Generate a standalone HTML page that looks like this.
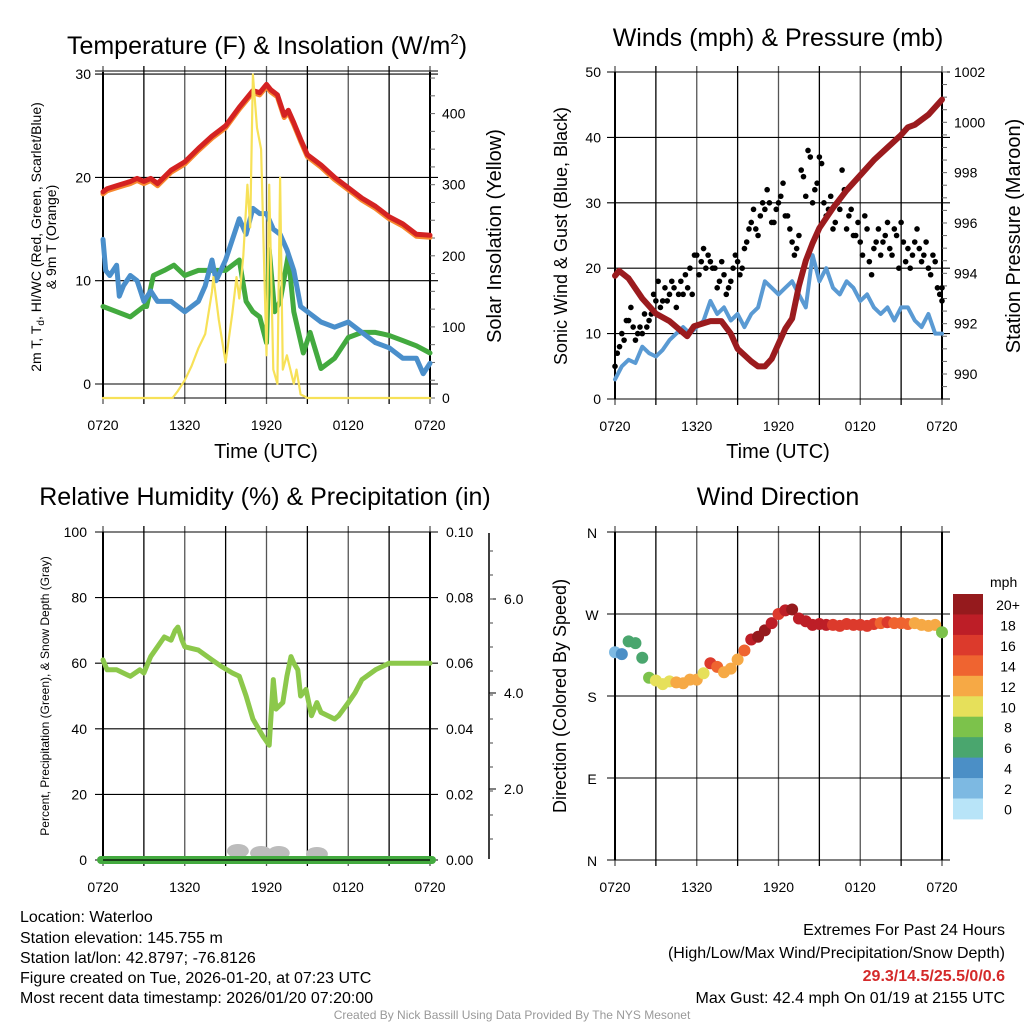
<!DOCTYPE html>
<html><head><meta charset="utf-8">
<style>
html,body{margin:0;padding:0;background:#fff;}
svg{display:block;font-family:"Liberation Sans",Arial,sans-serif;}
</style></head>
<body>
<svg id="c" width="1024" height="1024" viewBox="0 0 1024 1024" xmlns="http://www.w3.org/2000/svg">
<rect width="1024" height="1024" fill="#fff"/>
<g id="g1"></g>
<g id="g2"></g>
<g id="g3"></g>
<g id="g4"></g>

<text x="267" y="54" font-size="25" text-anchor="middle">Temperature (F) &amp; Insolation (W/m<tspan font-size="15" dy="-10">2</tspan><tspan dy="10">)</tspan></text>
<text x="778" y="46" font-size="25" text-anchor="middle">Winds (mph) &amp; Pressure (mb)</text>
<text x="265" y="505" font-size="25" text-anchor="middle">Relative Humidity (%) &amp; Precipitation (in)</text>
<text x="778" y="505" font-size="25" text-anchor="middle">Wind Direction</text>

<text x="266" y="458" font-size="20" text-anchor="middle">Time (UTC)</text>
<text x="778" y="458" font-size="20" text-anchor="middle">Time (UTC)</text>

<text transform="translate(41,237) rotate(-90)" font-size="14" text-anchor="middle">2m T, T<tspan font-size="10" dy="3">d</tspan><tspan dy="-3">, HI/WC (Red, Green, Scarlet/Blue)</tspan></text>
<text transform="translate(56,237) rotate(-90)" font-size="14" text-anchor="middle">&amp; 9m T (Orange)</text>
<text transform="translate(501,236) rotate(-90)" font-size="20" text-anchor="middle">Solar Insolation (Yellow)</text>
<text transform="translate(567,236) rotate(-90)" font-size="18" text-anchor="middle">Sonic Wind &amp; Gust (Blue, Black)</text>
<text transform="translate(1020,236) rotate(-90)" font-size="20" text-anchor="middle">Station Pressure (Maroon)</text>
<text transform="translate(49,696) rotate(-90)" font-size="12" text-anchor="middle">Percent, Precipitation (Green), &amp; Snow Depth (Gray)</text>
<text transform="translate(566,696) rotate(-90)" font-size="18" text-anchor="middle">Direction (Colored By Speed)</text>

<g font-size="16">
<text x="20" y="922">Location: Waterloo</text>
<text x="20" y="943">Station elevation: 145.755 m</text>
<text x="20" y="963">Station lat/lon: 42.8797; -76.8126</text>
<text x="20" y="983">Figure created on Tue, 2026-01-20, at 07:23 UTC</text>
<text x="20" y="1003">Most recent data timestamp: 2026/01/20 07:20:00</text>
</g>
<g font-size="16" text-anchor="end">
<text x="1005" y="935">Extremes For Past 24 Hours</text>
<text x="1005" y="958">(High/Low/Max Wind/Precipitation/Snow Depth)</text>
<text x="1005" y="981" fill="#d42a2a" font-weight="bold">29.3/14.5/25.5/0/0.6</text>
<text x="1005" y="1003">Max Gust: 42.4 mph On 01/19 at 2155 UTC</text>
</g>
<text x="512" y="1019" font-size="12" fill="#999" text-anchor="middle">Created By Nick Bassill Using Data Provided By The NYS Mesonet</text>
</svg>
<script>
// ---------- data ----------
const xTickLabels = ["0720","1320","1920","0120","0720"];
// Panel 1
const redH = [0,0.3,1,2,2.5,3,3.5,4,5,6,7,8,9,10,11,11.5,12,12.3,12.8,13.3,13.6,14,14.5,15,16,17,18,19,20,21,22,23,24];
const redV = [18.6,18.9,19.2,19.6,19.9,19.6,19.9,19.4,20.7,21.5,22.8,24.0,25.0,26.8,28.4,28.2,29.0,28.5,28.0,26.0,26.5,25.3,23.7,22.2,21.2,20.0,19.0,18.0,17.2,16.2,15.5,14.5,14.4];
const orangeV = [18.4,18.7,19.0,19.4,19.7,19.4,19.7,19.2,20.5,21.3,22.6,23.8,24.8,26.6,28.2,28.0,28.8,28.3,27.8,25.8,26.3,25.1,23.5,22.0,21.0,19.8,18.8,17.8,17.0,16.0,15.3,14.3,14.2];
const blueH = [0,0.2,0.5,1,1.2,1.5,2,2.5,3,3.5,4,5,6,7,7.5,8,8.3,9,10,10.5,11,11.5,12,12.5,13,13.5,14,14.5,15,16,17,18,19,20,21,22,23,23.5,24];
const blueV = [14,11,10.5,11.5,8.5,9.5,10.5,10,8,9,8,8,7,8,9.5,12,10,12,16,14.5,17,16.5,16.5,15,14.5,13,11,7.5,7,6,5.5,6,5,4,3.5,2.5,2.5,1,2];
const greenH = [0,1,2,3,3.2,3.7,4.5,5.2,6,7,7.5,8,9,10,10.5,11,11.5,12,12.2,12.6,13,13.6,14,14.7,15.2,16,17,18,19,20,21,22,23,24];
const greenV = [7.5,7,6.5,7.5,7.5,10.5,11,11.5,10.5,11,11,11,11,12,8,7,6.5,4,13,7,8,12.5,7,3,5,1.5,2.5,4.5,5,5,4.7,4.2,3.7,3];
const solarH = [0,5.1,5.5,6,6.5,7,7.5,8,8.1,8.5,9,9.5,9.8,10,10.3,10.6,10.8,11,11.3,11.6,12,12.2,12.5,12.8,13,13.2,13.5,14,14.2,14.5,15,24];
const solarV = [0,0,10,25,45,70,90,150,170,110,50,120,170,140,200,300,240,455,380,350,60,300,40,20,310,40,60,20,40,5,0,0];
// Panel 2
const windV = [3,5,6,5.5,8,7,6.5,7.5,9,10,11,10,11,12,15,13,14,12,13,11,13,14,18,17,16,17,18,16,14,22,18,20,17,16,18,17,15,16,14,13,14,12,14,14,12,11,13,10,10];
const gustV = [5,8,9,12,11,10,10,11,13,15,14,17,16,17,16,16,17,16,22,21,20,21,20,18,19,17,20,21,20,24,27,26,28,29,30,27,30,33,28,24,23,35,31,37,32,37,30,29,26,30,35,26,29,25,24,28,21,23,26,24,27,22,25,27,21,20,24,23,22,20,22,17,15];
const gust2V = [7,10,12,14,9,11,13,12,16,18,15,15,18,14,18,19,20,22,19,23,22,20,17,21,16,18,22,19,23,26,29,25,30,32,27,29,31,28,26,22,25,34,38,30,33,36,28,31,27,29,32,28,25,27,22,26,19,24,22,25,23,26,20,24,23,22,26,21,24,19,21,16,17];
const presH = [0,0.3,1,2,3,4,5.3,5.8,7,7.8,8.5,9,10,10.5,11,11.5,12.5,13,13.5,14,14.5,15,16,17,18,19,20,21,21.5,22,23,24];
const presV = [993.9,994.1,993.8,993.0,992.4,992.1,991.5,991.9,992.1,992.1,991.6,991.0,990.5,990.3,990.3,990.6,991.8,992.2,993.5,994.5,995.2,995.8,996.6,997.3,997.9,998.5,999.0,999.5,999.8,999.9,1000.3,1000.9];
// Panel 3
const rhH = [0,0.3,1,2,2.7,3,3.5,4,4.5,5,5.3,5.5,5.8,6,7,8,8.7,9.5,10,10.5,11,11.7,12.2,12.5,12.7,13.2,13.5,13.8,14,14.3,14.5,14.9,15.3,15.7,16,17,17.3,18,18.5,19,20,21,22,23,24];
const rhV = [61,58,58,56,58,57,62,65,68,67,70,71,67,65,64,61,59,57,56,50,43,38,35,55,46,48,56,62,60,58,50,52,44,48,45,43,44,48,51,55,58,60,60,60,60];
const snowH = [9.9,11.6,12.9,15.7];
const snowV = [0.25,0.15,0.15,0.1];
// Panel 4
const dirV = [228,226,240,238,222,200,197,193,196,195,194,198,198,205,216,212,206,210,220,230,242,245,252,260,270,274,275,265,262,258,259,258,258,257,259,258,258,257,259,260,261,260,260,259,260,258,257,258,250];
const spdV = [3,5,7,7,7,9,10,10,11,12,13,12,12,11,16,15,12,12,13,15,18,20,20,18,17,18,20,19,19,18,18,18,17,17,17,16,17,16,16,15,16,15,14,14,13,13,12,12,8];
const cbLabels = ["20+","18","16","14","12","10","8","6","4","2","0"];
const cbColors = ["#951a1d","#bd1e27","#dc3a2c","#ef6430","#f6a945","#e6e05a","#7cc24b","#4aa66e","#4b8fc6","#7db9e2","#b8e4f8"];

// ---------- helpers ----------
const NS = "http://www.w3.org/2000/svg";
function mk(parent, tag, attrs, name){
  const el = document.createElementNS(NS, tag);
  for (const k in attrs) el.setAttribute(k, attrs[k]);
  
  
  parent.appendChild(el);
  return el;
}
function linePath(parent, hs, vs, sx, sy, color, w, name){
  let d = "";
  for (let i=0;i<hs.length;i++){ d += (i?"L":"M")+sx(hs[i]).toFixed(1)+","+sy(vs[i]).toFixed(1); }
  return mk(parent, "path", {d:d, fill:"none", stroke:color, "stroke-width":w, "stroke-linejoin":"round", "stroke-linecap":"round"}, name);
}
function txt(parent, x, y, s, size, anchor, name){
  const t = mk(parent, "text", {x:x, y:y, "font-size":size, "text-anchor":anchor}, name);
  t.textContent = s;
  return t;
}
function frame(g, x0, x1, y0, y1, hLines, name){
  for (let k=0;k<=8;k++){
    const x = x0 + (x1-x0)*k/8;
    mk(g, "line", {x1:x, x2:x, y1:y0-6, y2:y1+6, stroke:(k%2?"#000":"#555"), "stroke-width":1.3}, name+"-vgrid");
  }
  hLines.forEach(y=>{
    mk(g, "line", {x1:x0-8, x2:x1+8, y1:y, y2:y, stroke:"#000", "stroke-width":1.1}, name+"-hgrid");
  });
  mk(g, "line", {x1:x0, x2:x0, y1:y0, y2:y1, stroke:"#000", "stroke-width":2}, name+"-left-axis");
  mk(g, "line", {x1:x1, x2:x1, y1:y0, y2:y1, stroke:"#000", "stroke-width":2}, name+"-right-axis");
  xTickLabels.forEach((s,i)=>{
    txt(g, x0+(x1-x0)*i/4, y1+32, s, 14, "middle", "x-tick-label");
  });
}

// ---------- Panel 1 ----------
(function(){
  const g = document.getElementById("g1");
  const x0=103,x1=430,y0=72,y1=398;
  const sx = h => x0 + h/24*(x1-x0);
  const sy = v => 384 - v*10.33;
  const ss = v => 398 - v*0.711;
  frame(g,x0,x1,y0,y1,[sy(0),sy(10),sy(20),sy(30),y0-1],"temp");
  mk(g,"line",{x1:x0,x2:x1,y1:y1,y2:y1,stroke:"#000","stroke-width":1},"temp-bottom-axis");
  [0,10,20,30].forEach(v=>txt(g,x0-12,sy(v)+5,String(v),14,"end","temp-y-tick-label"));
  [0,100,200,300,400].forEach(v=>txt(g,x1+12,ss(v)+5,String(v),14,"start","solar-y-tick-label"));
  for (let v=0; v<=450; v+=25) mk(g,"line",{x1:x1,x2:x1+5,y1:ss(v),y2:ss(v),stroke:"#666","stroke-width":1},"solar-minor-tick");
  linePath(g, greenH, greenV, sx, sy, "#43aa3f", 5, "dewpoint-line");
  linePath(g, blueH, blueV, sx, sy, "#4a8fcb", 5, "wind-chill-line");
  linePath(g, redH, orangeV, sx, sy, "#f7882f", 5, "9m-temperature-line");
  linePath(g, redH, redV, sx, sy, "#d42222", 5, "2m-temperature-line");
  linePath(g, solarH, solarV, sx, ss, "#f7e158", 2.2, "solar-insolation-line");
})();

// ---------- Panel 2 ----------
(function(){
  const g = document.getElementById("g2");
  const x0=615,x1=942,y0=72,y1=399;
  const sx = h => x0 + h/24*(x1-x0);
  const sy = v => 399 - v*6.54;
  const sp = p => 374 - (p-990)*25.17;
  frame(g,x0,x1,y0,y1,[sy(10),sy(20),sy(30),sy(40),sy(50),sy(0)],"winds");
  [0,10,20,30,40,50].forEach(v=>txt(g,x0-14,sy(v)+5,String(v),14,"end","wind-y-tick-label"));
  [990,992,994,996,998,1000,1002].forEach(v=>txt(g,x1+12,sp(v)+5,String(v),14,"start","pressure-y-tick-label"));
  for (let p=989.5;p<=1002;p+=0.5) mk(g,"line",{x1:x1,x2:x1+5,y1:sp(p),y2:sp(p),stroke:"#666","stroke-width":1},"pressure-minor-tick");
  const wh = windV.map((v,i)=>i*24/(windV.length-1));
  linePath(g, wh, windV, sx, sy, "#5a9ad3", 4, "sustained-wind-line");
  gustV.forEach((v,i)=>{
    const h = i*24/(gustV.length-1);
    mk(g,"circle",{cx:sx(h),cy:sy(v),r:2.8,fill:"#000"},"gust-point");
  });
  gust2V.forEach((v,i)=>{
    const h = Math.min(24, i*24/(gust2V.length-1) + 1/6);
    mk(g,"circle",{cx:sx(h),cy:sy(v),r:2.8,fill:"#000"},"gust-point");
  });
  linePath(g, presH, presV, sx, sp, "#9b1b1e", 6, "pressure-line");
})();

// ---------- Panel 3 ----------
(function(){
  const g = document.getElementById("g3");
  const x0=103,x1=430,y0=532,y1=860;
  const sx = h => x0 + h/24*(x1-x0);
  const sy = v => 860 - v*3.28;
  frame(g,x0,x1,y0,y1,[sy(20),sy(40),sy(60),sy(80),sy(100),sy(0)],"humidity");
  [0,20,40,60,80,100].forEach(v=>txt(g,x0-16,sy(v)+5,String(v),14,"end","humidity-y-tick-label"));
  ["0.00","0.02","0.04","0.06","0.08","0.10"].forEach((s,i)=>txt(g,x1+16,sy(i*20)+5,s,14,"start","precip-y-tick-label"));
  mk(g,"line",{x1:489,x2:489,y1:533,y2:859,stroke:"#000","stroke-width":1.5},"snow-axis");
  const snowTicks=["6.0","4.0","2.0"], snowY=[599,693,789];
  snowTicks.forEach((s,i)=>{
    mk(g,"line",{x1:489,x2:496,y1:snowY[i],y2:snowY[i],stroke:"#000"},"snow-tick");
    txt(g,504,snowY[i]+5,s,14,"start","snow-y-tick-label");
  });
  for (let y=551;y<860;y+=24) mk(g,"line",{x1:489,x2:493,y1:y,y2:y,stroke:"#444"},"snow-minor-tick");
  snowH.forEach((h,i)=>mk(g,"ellipse",{cx:sx(h),cy:856-snowV[i]*20,rx:11,ry:7,fill:"#bcbcbc"},"snow-depth-mark"));
  mk(g,"line",{x1:x0-2,x2:x1+2,y1:860,y2:860,stroke:"#43aa3f","stroke-width":8,"stroke-linecap":"round"},"precipitation-line");
  mk(g,"line",{x1:x0,x2:x1,y1:860,y2:860,stroke:"#000","stroke-width":1.2},"humidity-bottom-axis");
  linePath(g, rhH, rhV, sx, sy, "#8cc84b", 5, "relative-humidity-line");
})();

// ---------- Panel 4 ----------
(function(){
  const g = document.getElementById("g4");
  const x0=615,x1=942,y0=532,y1=860;
  const sx = h => x0 + h/24*(x1-x0);
  const sy = d => 860 - d/360*(y1-y0);
  frame(g,x0,x1,y0,y1,[sy(0),sy(90),sy(180),sy(270),sy(360)],"direction");
  ["N","E","S","W","N"].forEach((s,i)=>txt(g,x0-23,sy(i*90)+6,s,14,"middle","direction-y-tick-label"));
  function col(s){ let k = Math.min(10, Math.max(0, Math.floor(s/2))); return cbColors[10-k]; }
  dirV.forEach((d,i)=>{
    const h = i*24/(dirV.length-1);
    mk(g,"circle",{cx:sx(h),cy:sy(d),r:6,fill:col(spdV[i])},"direction-point");
  });
  txt(g,990,587,"mph",14,"start","colorbar-title");
  cbColors.forEach((c,i)=>{
    mk(g,"rect",{x:953,y:594+i*20.45,width:30,height:20.9,fill:c},"colorbar-box");
    txt(g,1008,594+i*20.45+16,cbLabels[i],14,"middle","colorbar-label");
  });
})();
</script>
</body></html>
